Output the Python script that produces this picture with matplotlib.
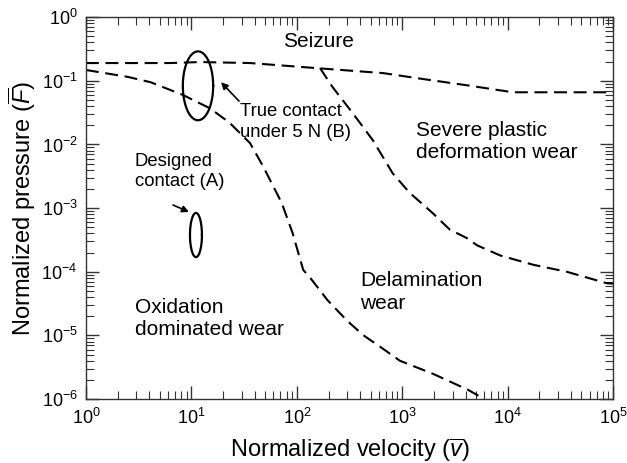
import numpy as np
import matplotlib
matplotlib.use("Agg")
import matplotlib.pyplot as plt

plt.rcParams['font.family'] = ['Liberation Sans', 'DejaVu Sans']
plt.rcParams['mathtext.fontset'] = 'custom'
plt.rcParams['mathtext.rm'] = 'Liberation Sans'
plt.rcParams['mathtext.it'] = 'Liberation Sans:italic'

# Boundary: seizure
seiz_v = [1, 6.3, 12, 36, 155, 660, 1380, 4100, 11200, 100000]
seiz_F = [0.19, 0.19, 0.197, 0.19, 0.158, 0.132, 0.110, 0.085, 0.066, 0.066]
# Boundary: oxidation / delamination
oxi_v = [1, 2.5, 4.1, 8.3, 15, 23, 36, 48, 72, 91, 115, 135, 195, 300, 430,
         620, 950, 1950, 4200, 6000]
oxi_F = [0.148, 0.115, 0.095, 0.060, 0.037, 0.022, 0.0105, 0.0045, 0.0012,
         4.1e-4, 1.07e-4, 7.9e-5, 3.6e-5, 1.7e-5, 1.0e-5, 6.6e-6, 4.0e-6,
         2.5e-6, 1.4e-6, 1.0e-6]
# Boundary: delamination / severe plastic deformation
del_v = [166, 219, 339, 525, 813, 1175, 1950, 2820, 4070, 5130, 8510, 17400,
         36300, 87100, 100000]
del_F = [0.158, 0.079, 0.031, 0.0117, 0.0035, 0.00174, 8.3e-4, 4.6e-4,
         3.4e-4, 2.6e-4, 1.8e-4, 1.29e-4, 1.0e-4, 6.6e-5, 6.5e-5]

# Ellipses (contact regions): v range and F range
ellA_v = [9.7, 12.6]
ellA_F = [1.7e-4, 8.4e-4]
ellB_v = [8.3, 16.1]
ellB_F = [0.024, 0.29]

fig = plt.figure(figsize=(6.27, 4.63), dpi=100)
ax = fig.add_axes([0.137, 0.138, 0.841, 0.825])
ax.set_xscale('log')
ax.set_yscale('log')
ax.set_xlim(1, 1e5)
ax.set_ylim(1e-6, 1)

ls = (0, (6.2, 3.2))
for xv, yv in [(seiz_v, seiz_F), (oxi_v, oxi_F), (del_v, del_F)]:
    ax.plot(xv, yv, color='black', lw=1.5, linestyle=ls)

t = np.linspace(0, 2 * np.pi, 200)
for ev, eF in [(ellA_v, ellA_F), (ellB_v, ellB_F)]:
    lx = np.log10(ev)
    ly = np.log10(eF)
    cx, rx = lx.mean(), (lx[1] - lx[0]) / 2
    cy, ry = ly.mean(), (ly[1] - ly[0]) / 2
    ax.plot(10 ** (cx + rx * np.cos(t)), 10 ** (cy + ry * np.sin(t)),
            color='black', lw=1.6)

fs = 15
fs2 = 13.3
ax.text(74, 0.41, 'Seizure', fontsize=fs, va='center', ha='left')
ax.text(29, 0.0225, 'True contact\nunder 5 N (B)', fontsize=fs2, va='center',
        ha='left', linespacing=1.25)
ax.text(2.9, 3.76e-3, 'Designed\ncontact (A)', fontsize=fs2, va='center',
        ha='left', linespacing=1.25)
ax.text(1350, 0.0111, 'Severe plastic\ndeformation wear', fontsize=fs,
        va='center', ha='left', linespacing=1.25)
ax.text(398, 4.8e-5, 'Delamination\nwear', fontsize=fs, va='center',
        ha='left', linespacing=1.25)
ax.text(2.9, 1.85e-5, 'Oxidation\ndominated wear', fontsize=fs, va='center',
        ha='left', linespacing=1.25)

arrow = dict(arrowstyle='-|>', color='black', lw=1.2, mutation_scale=10,
             shrinkA=0, shrinkB=0)
ax.annotate('', xy=(9.5, 8.7e-4), xytext=(6.7, 1.12e-3), arrowprops=arrow)
ax.annotate('', xy=(19.1, 0.095), xytext=(28.3, 0.048), arrowprops=arrow)

ax.set_xlabel(r'Normalized velocity ($\overline{v}$)', fontsize=17)
ax.set_ylabel(r'Normalized pressure ($\overline{F}$)', fontsize=17)
ax.xaxis.set_label_coords(0.5, -0.096)
ax.yaxis.set_label_coords(-0.091, 0.5)

ax.tick_params(which='both', direction='in', top=True, right=True,
               color='#333333', labelsize=13)
ax.tick_params(which='major', length=9.5, width=1.0, pad=6)
ax.tick_params(which='minor', length=5.5, width=0.8)
ax.xaxis.set_major_locator(matplotlib.ticker.LogLocator(base=10, numticks=10))
ax.yaxis.set_major_locator(matplotlib.ticker.LogLocator(base=10, numticks=10))
ax.xaxis.set_minor_locator(matplotlib.ticker.LogLocator(base=10, subs=np.arange(2, 10), numticks=20))
ax.yaxis.set_minor_locator(matplotlib.ticker.LogLocator(base=10, subs=np.arange(2, 10), numticks=20))
ax.xaxis.set_minor_formatter(matplotlib.ticker.NullFormatter())
ax.yaxis.set_minor_formatter(matplotlib.ticker.NullFormatter())
for s in ax.spines.values():
    s.set_linewidth(1.0)
    s.set_color('#333333')

fig.savefig('out.png', dpi=100)
